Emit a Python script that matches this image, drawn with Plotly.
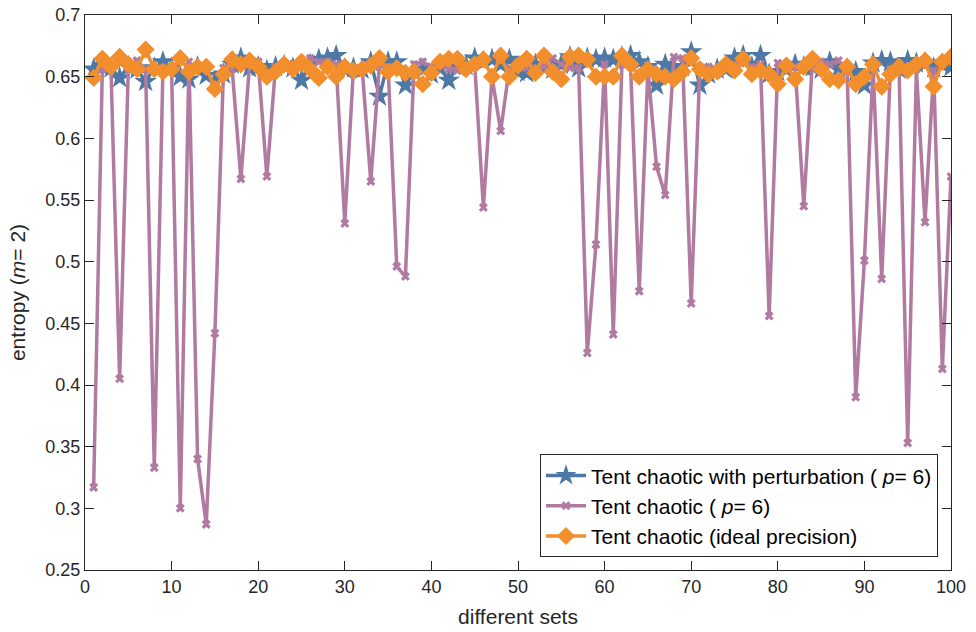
import plotly.graph_objects as go

x_sets = list(range(1, 101))

perturb = [0.656, 0.659, 0.657, 0.649, 0.658, 0.656, 0.646, 0.657, 0.662, 0.657,
           0.650, 0.648, 0.658, 0.651, 0.646, 0.652, 0.660, 0.665, 0.657, 0.658,
           0.655, 0.658, 0.659, 0.657, 0.647, 0.660, 0.664, 0.665, 0.667, 0.656,
           0.657, 0.656, 0.662, 0.634, 0.662, 0.662, 0.643, 0.654, 0.656, 0.652,
           0.657, 0.647, 0.658, 0.659, 0.665, 0.662, 0.664, 0.660, 0.664, 0.654,
           0.653, 0.660, 0.657, 0.656, 0.660, 0.666, 0.657, 0.665, 0.664, 0.665,
           0.664, 0.666, 0.667, 0.662, 0.658, 0.643, 0.660, 0.657, 0.658, 0.670,
           0.643, 0.652, 0.656, 0.656, 0.665, 0.667, 0.658, 0.667, 0.652, 0.654,
           0.656, 0.660, 0.658, 0.658, 0.656, 0.662, 0.656, 0.656, 0.654, 0.643,
           0.661, 0.663, 0.662, 0.656, 0.663, 0.661, 0.661, 0.657, 0.660, 0.658]

chaotic_p6 = [0.317, 0.656, 0.656, 0.405, 0.657, 0.663, 0.656, 0.333, 0.657, 0.656,
              0.300, 0.662, 0.340, 0.287, 0.442, 0.657, 0.656, 0.567, 0.660, 0.662,
              0.569, 0.658, 0.658, 0.660, 0.662, 0.665, 0.662, 0.662, 0.660, 0.531,
              0.657, 0.657, 0.565, 0.660, 0.658, 0.496, 0.488, 0.660, 0.662, 0.658,
              0.660, 0.656, 0.655, 0.657, 0.660, 0.544, 0.650, 0.606, 0.657, 0.658,
              0.657, 0.656, 0.658, 0.665, 0.660, 0.657, 0.657, 0.426, 0.514, 0.660,
              0.441, 0.660, 0.658, 0.476, 0.656, 0.577, 0.554, 0.666, 0.665, 0.466,
              0.658, 0.658, 0.656, 0.658, 0.660, 0.662, 0.658, 0.660, 0.456, 0.661,
              0.660, 0.658, 0.545, 0.663, 0.662, 0.660, 0.663, 0.656, 0.390, 0.501,
              0.658, 0.486, 0.656, 0.657, 0.353, 0.656, 0.532, 0.655, 0.413, 0.569]

ideal = [0.649, 0.6645, 0.658, 0.666, 0.660, 0.656, 0.672, 0.656, 0.654, 0.656,
         0.665, 0.654, 0.658, 0.658, 0.640, 0.652, 0.664, 0.660, 0.663, 0.658,
         0.650, 0.654, 0.660, 0.656, 0.662, 0.656, 0.649, 0.658, 0.650, 0.658,
         0.655, 0.656, 0.659, 0.665, 0.654, 0.657, 0.653, 0.654, 0.644, 0.653,
         0.662, 0.6645, 0.6645, 0.656, 0.660, 0.664, 0.650, 0.667, 0.650, 0.659,
         0.6645, 0.653, 0.667, 0.654, 0.648, 0.666, 0.667, 0.664, 0.650, 0.650,
         0.650, 0.667, 0.660, 0.650, 0.656, 0.652, 0.650, 0.648, 0.654, 0.665,
         0.656, 0.652, 0.654, 0.660, 0.655, 0.6645, 0.652, 0.655, 0.652, 0.644,
         0.659, 0.648, 0.658, 0.6645, 0.656, 0.648, 0.647, 0.658, 0.644, 0.650,
         0.660, 0.642, 0.652, 0.658, 0.655, 0.660, 0.663, 0.642, 0.662, 0.666]

names = ["Tent chaotic with perturbation ( <i>p</i>= 6)",
         "Tent chaotic ( <i>p</i>= 6)",
         "Tent chaotic (ideal precision)"]

x_ticks = [0, 10, 20, 30, 40, 50, 60, 70, 80, 90, 100]
y_ticks = [0.25, 0.3, 0.35, 0.4, 0.45, 0.5, 0.55, 0.6, 0.65, 0.7]

BLUE = "#4e79a7"
PURPLE = "#b07aa1"
ORANGE = "#f28e2b"
AX = "#262626"
FONT = "Liberation Sans, Arial, sans-serif"

fig = go.Figure()
fig.add_trace(go.Scatter(
    x=x_sets, y=perturb, name=names[0], mode="lines+markers",
    line=dict(color=BLUE, width=3.5),
    marker=dict(symbol="star", size=17, color=BLUE, line=dict(width=0))))
fig.add_trace(go.Scatter(
    x=x_sets, y=chaotic_p6, name=names[1], mode="lines+markers",
    line=dict(color=PURPLE, width=3.5),
    marker=dict(symbol="x", size=8, color=PURPLE, line=dict(width=0))))
fig.add_trace(go.Scatter(
    x=x_sets, y=ideal, name=names[2], mode="lines+markers",
    line=dict(color=ORANGE, width=3.5),
    marker=dict(symbol="diamond", size=14, color=ORANGE, line=dict(width=0))))

axis_common = dict(
    showline=True, linecolor=AX, linewidth=1, mirror="ticks",
    ticks="inside", ticklen=9, tickcolor=AX, tickwidth=1,
    showgrid=False, zeroline=False, automargin=False,
    tickfont=dict(family=FONT, size=18, color=AX),
)

fig.update_layout(
    width=976, height=632,
    margin=dict(l=85, r=25, t=15, b=62),
    paper_bgcolor="white", plot_bgcolor="white",
    font=dict(family=FONT, color=AX),
    xaxis=dict(range=[0, 100], tickvals=x_ticks,
               title=dict(text="different sets", font=dict(family=FONT, size=21, color=AX), standoff=13),
               **axis_common),
    yaxis=dict(range=[0.25, 0.7], tickvals=y_ticks,
               ticktext=[f"{v:g}" for v in y_ticks],
               title=dict(text="entropy (<i>m</i>= 2)", font=dict(family=FONT, size=21, color=AX), standoff=14),
               **axis_common),
    legend=dict(x=0.985, y=0.023, xanchor="right", yanchor="bottom",
                bgcolor="white", bordercolor=AX, borderwidth=1,
                font=dict(family=FONT, size=21, color="black"),
                tracegroupgap=0, itemwidth=40),
    showlegend=True,
)

# remove the default 8px page margin so the figure fills the window exactly
fig.write_html("out.html",
               config={"displayModeBar": False},
               post_script="document.body.style.margin='0';document.body.style.overflow='hidden';")
